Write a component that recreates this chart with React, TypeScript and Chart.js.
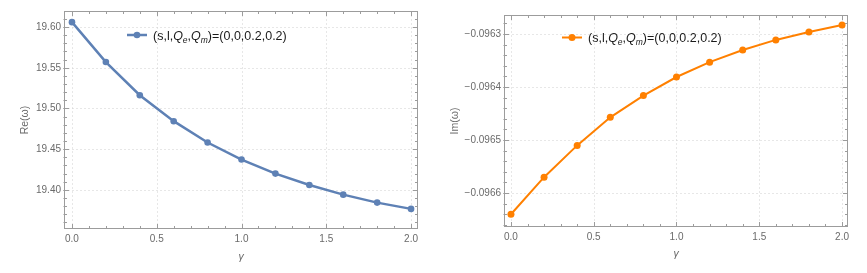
import React, { useEffect, useRef } from "react";
import { Chart, registerables } from "chart.js";

Chart.register(...registerables);

// ---- data ----
const gammas = [0, 0.2, 0.4, 0.6, 0.8, 1.0, 1.2, 1.4, 1.6, 1.8, 2.0];
const reOmega = [19.606, 19.557, 19.5163, 19.4844, 19.4582, 19.4373, 19.42, 19.406, 19.3942, 19.3844, 19.3767];
const imOmega = [-0.09664, -0.09657, -0.09651, -0.096457, -0.096416, -0.096381, -0.096353, -0.09633, -0.096311, -0.096296, -0.096283];
const xTickValues = [0, 0.5, 1.0, 1.5, 2.0];
const reTickValues = [19.4, 19.45, 19.5, 19.55, 19.6];
const imTickValues = [-0.0966, -0.0965, -0.0964, -0.0963];
const legendParts = [
  { t: "(s,l,", italic: false, sub: false },
  { t: "Q", italic: true, sub: false },
  { t: "e", italic: true, sub: true },
  { t: ",", italic: false, sub: false },
  { t: "Q", italic: true, sub: false },
  { t: "m", italic: true, sub: true },
  { t: ")=(0,0,0.2,0.2)", italic: false, sub: false },
];
const xTitle = "γ";
const reTitle = "Re(ω)";
const imTitle = "Im(ω)";

const FONT = "'Liberation Sans', Arial, sans-serif";
const TICK_COLOR = "#6a6a6a";

const framePlugin = {
  id: "frame",
  beforeDatasetsDraw(chart: any, _args: any, opts: any) {
    const { ctx, chartArea: a } = chart;
    const x = chart.scales.x;
    const y = chart.scales.y;
    ctx.save();
    const L = Math.round(a.left) + 0.5;
    const R = Math.round(a.right) - 0.5;
    const T = Math.round(a.top) + 0.5;
    const B = Math.round(a.bottom) - 0.5;
    // dotted grid
    ctx.strokeStyle = "#cfcfcf";
    ctx.lineWidth = 1;
    ctx.setLineDash([1, 3]);
    for (const v of opts.xMajor) {
      const px = Math.round(x.getPixelForValue(v)) + 0.5;
      ctx.beginPath();
      ctx.moveTo(px, T);
      ctx.lineTo(px, B);
      ctx.stroke();
    }
    for (const v of opts.yMajor) {
      const py = Math.round(y.getPixelForValue(v)) + 0.5;
      ctx.beginPath();
      ctx.moveTo(L, py);
      ctx.lineTo(R, py);
      ctx.stroke();
    }
    ctx.setLineDash([]);
    // frame
    ctx.strokeStyle = "#9c9c9c";
    ctx.strokeRect(L, T, R - L, B - T);
    // ticks
    const drawX = (v: number, len: number) => {
      const px = Math.round(x.getPixelForValue(v)) + 0.5;
      ctx.beginPath();
      ctx.moveTo(px, B);
      ctx.lineTo(px, B - len);
      ctx.moveTo(px, T);
      ctx.lineTo(px, T + len);
      ctx.stroke();
    };
    const drawY = (v: number, len: number) => {
      const py = Math.round(y.getPixelForValue(v)) + 0.5;
      ctx.beginPath();
      ctx.moveTo(L - 1, py);
      ctx.lineTo(L + len, py);
      ctx.moveTo(R, py);
      ctx.lineTo(R - len, py);
      ctx.stroke();
    };
    const xs = opts.xMinorStep;
    for (let i = Math.ceil(x.min / xs - 1e-9); i <= Math.floor(x.max / xs + 1e-9); i++) drawX(i * xs, 2.5);
    const ys = opts.yMinorStep;
    for (let i = Math.ceil(y.min / ys - 1e-9); i <= Math.floor(y.max / ys + 1e-9); i++) drawY(i * ys, 2.5);
    for (const v of opts.xMajor) drawX(v, 4.5);
    for (const v of opts.yMajor) drawY(v, 4.5);
    ctx.restore();
  },
};

const legendPlugin = {
  id: "mlegend",
  afterDatasetsDraw(chart: any, _args: any, opts: any) {
    const { ctx } = chart;
    const { x, y, color, lineWidth, radius } = opts;
    ctx.save();
    ctx.strokeStyle = color;
    ctx.fillStyle = color;
    ctx.lineWidth = lineWidth;
    ctx.beginPath();
    ctx.moveTo(x, y);
    ctx.lineTo(x + 20, y);
    ctx.stroke();
    ctx.beginPath();
    ctx.arc(x + 10, y, radius, 0, Math.PI * 2);
    ctx.fill();
    let tx = x + 26;
    ctx.fillStyle = "#1a1a1a";
    ctx.textBaseline = "alphabetic";
    for (const p of legendParts) {
      const size = p.sub ? 8.5 : 12.5;
      ctx.font = `${p.italic ? "italic " : ""}${size}px ${FONT}`;
      const by = y + 4.5 + (p.sub ? 3 : 0);
      ctx.fillText(p.t, tx, by);
      tx += ctx.measureText(p.t).width;
    }
    ctx.restore();
  },
};

function makeConfig(
  data: number[],
  color: string,
  lw: number,
  pr: number,
  yTicks: number[],
  yMin: number,
  yMax: number,
  xMin: number,
  xMax: number,
  yFmt: (v: number) => string,
  yTitleText: string,
  pad: { top: number; right: number; left: number },
  yWidth: number,
  xHeight: number,
  xTitlePad: number,
  yMinorStep: number,
  legendPos: { x: number; y: number }
): any {
  return {
    type: "line",
    data: {
      datasets: [
        {
          data: gammas.map((g, i) => ({ x: g, y: data[i] })),
          borderColor: color,
          backgroundColor: color,
          borderWidth: lw,
          pointRadius: pr,
          pointHoverRadius: pr,
          pointBorderWidth: 0,
          tension: 0,
        },
      ],
    },
    options: {
      animation: false,
      responsive: false,
      devicePixelRatio: 1,
      events: [],
      layout: { padding: { top: pad.top, right: pad.right, bottom: 0, left: pad.left } },
      plugins: {
        legend: { display: false },
        tooltip: { enabled: false },
        frame: { xMajor: xTickValues, yMajor: yTicks, xMinorStep: 0.1, yMinorStep },
        mlegend: { x: legendPos.x, y: legendPos.y, color, lineWidth: lw, radius: pr },
      },
      scales: {
        x: {
          type: "linear",
          min: xMin,
          max: xMax,
          grid: { display: false, drawTicks: false },
          border: { display: false },
          afterBuildTicks: (s: any) => {
            s.ticks = xTickValues.map((v) => ({ value: v }));
          },
          afterFit: (s: any) => {
            s.height = xHeight;
          },
          ticks: {
            padding: 4,
            maxRotation: 0,
            color: TICK_COLOR,
            font: { family: FONT, size: 10 },
            callback: (v: number) => Number(v).toFixed(1),
          },
          title: {
            display: true,
            text: xTitle,
            color: TICK_COLOR,
            font: { family: FONT, size: 10.5, style: "italic" },
            padding: { top: 0, bottom: xTitlePad },
          },
        },
        y: {
          type: "linear",
          min: yMin,
          max: yMax,
          grid: { display: false, drawTicks: false },
          border: { display: false },
          afterBuildTicks: (s: any) => {
            s.ticks = yTicks.map((v) => ({ value: v }));
          },
          afterFit: (s: any) => {
            s.width = yWidth;
          },
          ticks: {
            padding: 3,
            color: TICK_COLOR,
            font: { family: FONT, size: 10 },
            callback: (v: number) => yFmt(Number(v)),
          },
          title: {
            display: true,
            text: yTitleText,
            color: TICK_COLOR,
            font: { family: FONT, size: 10.5 },
            padding: { top: 0, bottom: 0 },
          },
        },
      },
    },
    plugins: [framePlugin, legendPlugin],
  };
}

export default function App() {
  const leftRef = useRef<HTMLCanvasElement>(null);
  const rightRef = useRef<HTMLCanvasElement>(null);

  useEffect(() => {
    Chart.defaults.font.family = FONT;
    const c1 = new Chart(
      leftRef.current as HTMLCanvasElement,
      makeConfig(
        reOmega,
        "#5e81b5",
        2.5,
        3.3,
        reTickValues,
        19.352,
        19.6197,
        -0.047,
        2.041,
        (v) => v.toFixed(2),
        reTitle,
        { top: 11, right: 15, left: 19 },
        45,
        44,
        10,
        0.01,
        { x: 127, y: 35 }
      )
    );
    const c2 = new Chart(
      rightRef.current as HTMLCanvasElement,
      makeConfig(
        imOmega,
        "#ff8000",
        2,
        3.5,
        imTickValues,
        -0.096664,
        -0.096264,
        -0.042,
        2.036,
        (v) => "\u2212" + Math.abs(v).toFixed(4),
        imTitle,
        { top: 15, right: 19, left: 16 },
        55,
        46,
        13,
        0.00002,
        { x: 129, y: 37.5 }
      )
    );
    return () => {
      c1.destroy();
      c2.destroy();
    };
  }, []);

  return (
    <div style={{ position: "absolute", left: 0, top: 0, width: 867, height: 273, background: "#fff" }}>
      <canvas ref={leftRef} width={433} height={273} style={{ position: "absolute", left: 0, top: 0 }} />
      <canvas ref={rightRef} width={434} height={273} style={{ position: "absolute", left: 433, top: 0 }} />
    </div>
  );
}
